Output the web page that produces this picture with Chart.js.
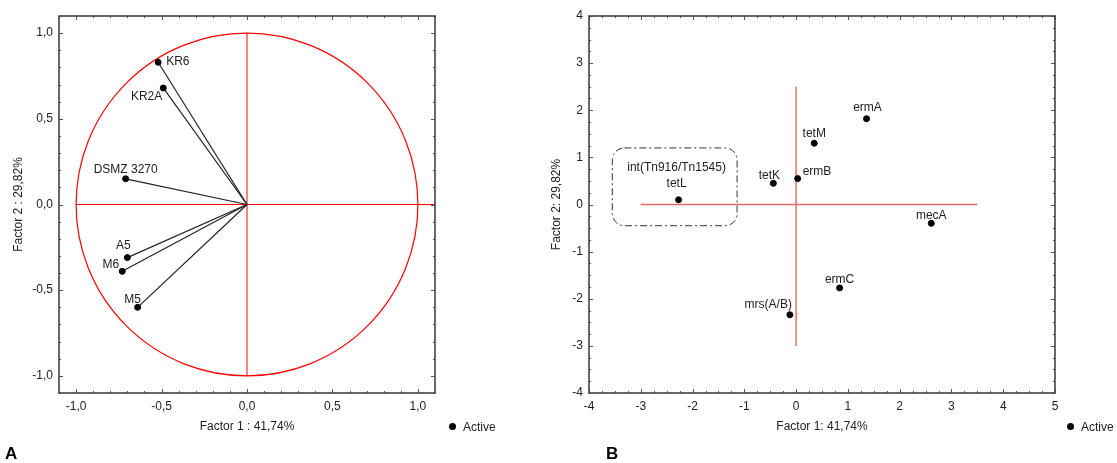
<!DOCTYPE html>
<html>
<head>
<meta charset="utf-8">
<script src="https://cdn.jsdelivr.net/npm/chart.js@4.4.0/dist/chart.umd.min.js"></script>
<style>
  body { margin: 0; background: #fff; font-family: "Liberation Sans", Arial, sans-serif; }
  #wrap { position: relative; width: 1117px; height: 463px; overflow: hidden; }
  canvas { position: absolute; top: 0; }
  #chartA { left: 0; }
  #chartB { left: 540px; }
  .legend { position: absolute; top: 419px; font-size: 12px; color: #222; line-height: 16px; white-space: nowrap; }
  .legend .dot { display: inline-block; width: 7px; height: 7px; border-radius: 50%; background: #000; margin-right: 7px; vertical-align: 1px; }
  .panel { position: absolute; top: 445px; font-size: 17px; font-weight: bold; line-height: 18px; color: #000; }
</style>
</head>
<body>
<div id="wrap">
  <canvas id="chartA" width="540" height="463"></canvas>
  <canvas id="chartB" width="577" height="463"></canvas>
  <div class="legend" style="left:449px"><span class="dot"></span>Active</div>
  <div class="legend" style="left:1067px"><span class="dot"></span>Active</div>
  <div class="panel" style="left:5px">A</div>
  <div class="panel" style="left:606px">B</div>
</div>
<script>
// --- panel A: factor loadings of the strains
const loadLabels = ['KR6', 'KR2A', 'DSMZ 3270', 'A5', 'M6', 'M5'];
const loadX = [-0.52, -0.49, -0.71, -0.70, -0.73, -0.64];
const loadY = [0.83, 0.68, 0.15, -0.31, -0.39, -0.60];
const ticksA = [-1, -0.5, 0, 0.5, 1];
const crossAX = [-1, 1.1];   // horizontal red line (y = 0)
const crossAY = [-1, 1];     // vertical red line (x = 0)

// --- panel B: scores of the genes
const geneLabels = [['int(Tn916/Tn1545)', 'tetL'], 'tetK', 'ermB', 'tetM', 'ermA', 'mecA', 'ermC', 'mrs(A/B)'];
const geneX = [-2.27, -0.44, 0.03, 0.35, 1.36, 2.61, 0.84, -0.12];
const geneY = [0.10, 0.45, 0.55, 1.30, 1.82, -0.40, -1.77, -2.34];
const ticksBX = [-4, -3, -2, -1, 0, 1, 2, 3, 4, 5];
const ticksBY = [-4, -3, -2, -1, 0, 1, 2, 3, 4];
const crossBX = [-3, 3.5];
const crossBY = [-3, 2.5];
const boxX = [-3.55, -1.14];  // dash-dot group frame
const boxY = [-0.45, 1.20];

const FONT = '"Liberation Sans", Arial, sans-serif';
const TXT = '#222';

// label offsets (px) relative to the point: [dx, dy, align]
const placeA = [[8, -1, 'left'], [-1, 9, 'right'], [0, -9, 'center'], [-4, -12, 'center'], [-3, -7, 'right'], [-5, -8, 'center']];
const placeB = [[-2, -16, 'center'], [-4, -8, 'center'], [5, -7, 'left'], [0, -10, 'center'], [1, -11, 'center'], [0, -8, 'center'], [0, -8, 'center'], [2, -10, 'right']];

// frame with inward major/minor ticks
const framePlugin = {
    id: 'frame',
    afterDatasetsDraw(chart, args, opts) {
        const { ctx, chartArea: a, scales: { x, y } } = chart;
        ctx.save();
        ctx.strokeStyle = '#555';
        ctx.lineWidth = 1;
        const tick = (scale, step, len, horiz) => {
            const k0 = Math.ceil(scale.min / step - 1e-6), k1 = Math.floor(scale.max / step + 1e-6);
            for (let k = k0; k <= k1; k++) {
                const p = Math.round(scale.getPixelForValue(k * step)) + 0.5;
                ctx.beginPath();
                if (horiz) {
                    ctx.moveTo(p, a.bottom); ctx.lineTo(p, a.bottom - len);
                    ctx.moveTo(p, a.top); ctx.lineTo(p, a.top + len);
                } else {
                    ctx.moveTo(a.left, p); ctx.lineTo(a.left + len, p);
                    ctx.moveTo(a.right, p); ctx.lineTo(a.right - len, p);
                }
                ctx.stroke();
            }
        };
        tick(x, opts.minorX, 2, true);
        tick(y, opts.minorY, 2, false);
        tick(x, opts.majorX, 4, true);
        tick(y, opts.majorY, 4, false);
        ctx.lineWidth = 1.6;
        ctx.strokeStyle = '#444';
        ctx.strokeRect(a.left, a.top, a.right - a.left, a.bottom - a.top);
        ctx.restore();
    }
};

// text next to points
const labelPlugin = {
    id: 'pointLabels',
    afterDatasetsDraw(chart, args, opts) {
        if (!opts.labels) return;
        const { ctx, scales: { x, y } } = chart;
        ctx.save();
        ctx.font = '12px ' + FONT;
        ctx.fillStyle = TXT;
        ctx.textBaseline = 'middle';
        opts.labels.forEach((lab, i) => {
            const [dx, dy, align] = opts.place[i];
            const px = x.getPixelForValue(opts.xs[i]) + dx;
            const py = y.getPixelForValue(opts.ys[i]) + dy;
            ctx.textAlign = align;
            const lines = Array.isArray(lab) ? lab : [lab];
            lines.forEach((t, j) => ctx.fillText(t, px, py - (lines.length - 1 - j) * 16));
        });
        ctx.restore();
    }
};

// unit circle (panel A) and dash-dot rounded box (panel B)
const shapesPlugin = {
    id: 'shapes',
    beforeDatasetsDraw(chart, args, opts) {
        const { ctx, chartArea: a, scales: { x, y } } = chart;
        ctx.save();
        ctx.beginPath();
        ctx.rect(a.left, a.top, a.right - a.left, a.bottom - a.top);
        ctx.clip();
        if (opts.circle) {
            const cx = x.getPixelForValue(0), cy = y.getPixelForValue(0);
            const rx = x.getPixelForValue(opts.circle) - cx, ry = cy - y.getPixelForValue(opts.circle);
            ctx.strokeStyle = '#ff0000';
            ctx.lineWidth = 1.2;
            ctx.beginPath();
            ctx.ellipse(cx, cy, rx, ry, 0, 0, Math.PI * 2);
            ctx.stroke();
        }
        if (opts.box) {
            const l = x.getPixelForValue(opts.box.x[0]), r = x.getPixelForValue(opts.box.x[1]);
            const t = y.getPixelForValue(opts.box.y[1]), b = y.getPixelForValue(opts.box.y[0]);
            ctx.strokeStyle = '#333';
            ctx.lineWidth = 1;
            ctx.setLineDash([7, 3, 2, 3]);
            ctx.beginPath();
            ctx.roundRect(l, t, r - l, b - t, 12);
            ctx.stroke();
        }
        ctx.restore();
    }
};

function lineSet(points, color, width) {
    return { data: points, showLine: true, borderColor: color, borderWidth: width, pointRadius: 0, fill: false };
}

function makeScale(ticks, fmt, title, titlePad, tickPad, size, horiz) {
    return {
        type: 'linear',
        min: ticks.min, max: ticks.max,
        afterBuildTicks: s => { s.ticks = ticks.values.map(v => ({ value: v })); },
        afterFit: s => { if (horiz) s.height = size; else s.width = size; },
        grid: { display: false, drawTicks: false },
        border: { display: false },
        ticks: { callback: fmt, padding: tickPad, color: TXT, font: { family: FONT, size: 12 }, maxRotation: 0, autoSkip: false },
        title: { display: true, text: title, color: TXT, font: { family: FONT, size: 12 }, padding: titlePad }
    };
}

function makeChart(id, datasets, scales, padRight, plugOpts) {
    return new Chart(document.getElementById(id), {
        type: 'scatter',
        data: { datasets },
        options: {
            responsive: false,
            animation: false,
            layout: { padding: { top: 16, right: padRight, bottom: 0, left: 0 } },
            plugins: Object.assign({ legend: { display: false }, tooltip: { enabled: false } }, plugOpts),
            scales
        },
        plugins: [shapesPlugin, labelPlugin, framePlugin]
    });
}

// ---------- Panel A
const fmtA = v => v.toFixed(1).replace('.', ',');
const dsA = [{
    data: loadX.map((v, i) => ({ x: v, y: loadY[i] })),
    pointRadius: 3, pointBackgroundColor: '#000', pointBorderColor: '#000', showLine: false
}];
loadX.forEach((v, i) => dsA.push(lineSet([{ x: 0, y: 0 }, { x: v, y: loadY[i] }], '#222', 1.2)));
dsA.push(lineSet(crossAX.map(v => ({ x: v, y: 0 })), '#ff0000', 1));
dsA.push(lineSet(crossAY.map(v => ({ x: 0, y: v })), '#ff0000', 1));

makeChart('chartA', dsA, {
    x: makeScale({ min: -1.1, max: 1.1, values: ticksA }, fmtA, 'Factor 1 : 41,74%', { bottom: 29 }, 6, 70, true),
    y: makeScale({ min: -1.1, max: 1.1, values: ticksA }, fmtA, 'Factor 2 : 29,82%', { top: 11 }, 6, 59, false)
}, 105, {
    frame: { minorX: 0.1, minorY: 0.1, majorX: 0.5, majorY: 0.5 },
    pointLabels: { labels: loadLabels, xs: loadX, ys: loadY, place: placeA },
    shapes: { circle: 1 }
});

// ---------- Panel B
const fmtB = v => String(v);
const dsB = [{
    data: geneX.map((v, i) => ({ x: v, y: geneY[i] })),
    pointRadius: 3, pointBackgroundColor: '#000', pointBorderColor: '#000', showLine: false
}];
dsB.push(lineSet(crossBX.map(v => ({ x: v, y: 0 })), '#f06a6a', 1.5));
dsB.push(lineSet(crossBY.map(v => ({ x: 0, y: v })), '#f06a6a', 1.5));

makeChart('chartB', dsB, {
    x: makeScale({ min: -4, max: 5, values: ticksBX }, fmtB, 'Factor 1: 41,74%', { bottom: 29 }, 6, 70, true),
    y: makeScale({ min: -4, max: 4, values: ticksBY }, fmtB, 'Factor 2: 29,82%', { top: 9.5 }, 6, 49, false)
}, 62, {
    frame: { minorX: 0.25, minorY: 0.25, majorX: 1, majorY: 1 },
    pointLabels: { labels: geneLabels, xs: geneX, ys: geneY, place: placeB },
    shapes: { box: { x: boxX, y: boxY } }
});
</script>
</body>
</html>
